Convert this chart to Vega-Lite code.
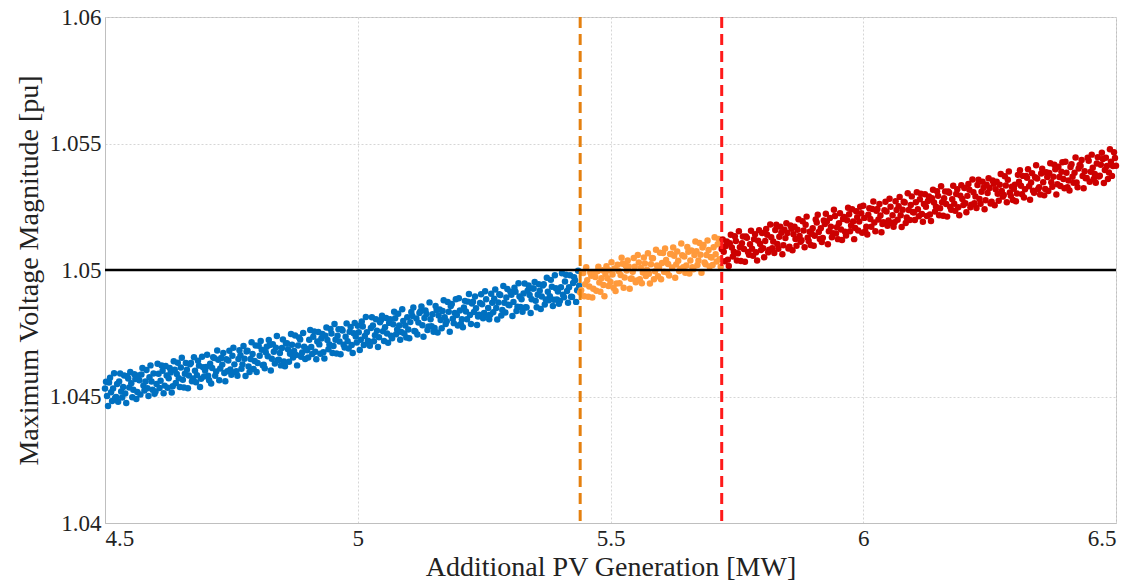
{
"$schema": "https://vega.github.io/schema/vega-lite/v6.json",
"width": 1011, "height": 506,
"autosize": {"type": "none"},
"padding": {"left": 105, "top": 17, "right": 20, "bottom": 61},
"background": "white",
"config": {
  "font": "Liberation Serif",
  "view": {"stroke": "#BFBFBF", "strokeWidth": 1},
  "axis": {"labelFont": "Liberation Serif", "titleFont": "Liberation Serif", "labelFontSize": 23, "titleFontSize": 28, "labelColor": "#222222", "titleColor": "#222222", "titleFontWeight": "normal", "domainColor": "#BFBFBF", "ticks": false, "gridColor": "#D6D6D6", "gridDash": [2, 2], "gridWidth": 1}
},
"datasets": {
"pts": [
{"x":4.500,"y":1.04532},{"x":4.504,"y":1.04502},{"x":4.508,"y":1.04555},{"x":4.512,"y":1.04517},{"x":4.516,"y":1.04532},{"x":4.520,"y":1.04494},{"x":4.524,"y":1.04549},{"x":4.528,"y":1.04559},{"x":4.532,"y":1.04520},{"x":4.536,"y":1.04538},{"x":4.540,"y":1.04512},{"x":4.544,"y":1.04580},{"x":4.548,"y":1.04536},{"x":4.552,"y":1.04552},{"x":4.556,"y":1.04527},{"x":4.560,"y":1.04569},{"x":4.564,"y":1.04518},{"x":4.568,"y":1.04564},{"x":4.572,"y":1.04587},{"x":4.576,"y":1.04543},{"x":4.580,"y":1.04559},{"x":4.584,"y":1.04533},{"x":4.588,"y":1.04576},{"x":4.592,"y":1.04559},{"x":4.596,"y":1.04591},
{"x":4.602,"y":1.04549},{"x":4.606,"y":1.04590},{"x":4.610,"y":1.04562},{"x":4.614,"y":1.04602},{"x":4.618,"y":1.04543},{"x":4.622,"y":1.04583},{"x":4.626,"y":1.04572},{"x":4.630,"y":1.04595},{"x":4.634,"y":1.04541},{"x":4.638,"y":1.04606},{"x":4.642,"y":1.04589},{"x":4.646,"y":1.04572},{"x":4.650,"y":1.04615},{"x":4.654,"y":1.04566},{"x":4.658,"y":1.04590},{"x":4.662,"y":1.04606},{"x":4.666,"y":1.04583},{"x":4.670,"y":1.04632},{"x":4.674,"y":1.04571},{"x":4.678,"y":1.04602},{"x":4.682,"y":1.04584},{"x":4.686,"y":1.04622},{"x":4.690,"y":1.04570},{"x":4.694,"y":1.04616},{"x":4.698,"y":1.04603},
{"x":4.700,"y":1.04617},{"x":4.704,"y":1.04582},{"x":4.708,"y":1.04629},{"x":4.712,"y":1.04613},{"x":4.716,"y":1.04652},{"x":4.720,"y":1.04599},{"x":4.724,"y":1.04645},{"x":4.728,"y":1.04611},{"x":4.732,"y":1.04626},{"x":4.736,"y":1.04593},{"x":4.740,"y":1.04647},{"x":4.744,"y":1.04642},{"x":4.748,"y":1.04607},{"x":4.752,"y":1.04661},{"x":4.756,"y":1.04627},{"x":4.760,"y":1.04600},{"x":4.764,"y":1.04648},{"x":4.768,"y":1.04663},{"x":4.772,"y":1.04627},{"x":4.776,"y":1.04649},{"x":4.780,"y":1.04678},{"x":4.784,"y":1.04619},{"x":4.788,"y":1.04648},{"x":4.792,"y":1.04668},{"x":4.796,"y":1.04640},
{"x":4.802,"y":1.04632},{"x":4.806,"y":1.04661},{"x":4.810,"y":1.04685},{"x":4.814,"y":1.04626},{"x":4.818,"y":1.04675},{"x":4.822,"y":1.04659},{"x":4.826,"y":1.04704},{"x":4.830,"y":1.04649},{"x":4.834,"y":1.04677},{"x":4.838,"y":1.04693},{"x":4.842,"y":1.04644},{"x":4.846,"y":1.04672},{"x":4.850,"y":1.04692},{"x":4.854,"y":1.04638},{"x":4.858,"y":1.04709},{"x":4.862,"y":1.04687},{"x":4.866,"y":1.04669},{"x":4.870,"y":1.04705},{"x":4.874,"y":1.04680},{"x":4.878,"y":1.04664},{"x":4.882,"y":1.04702},{"x":4.886,"y":1.04725},{"x":4.890,"y":1.04674},{"x":4.894,"y":1.04697},{"x":4.898,"y":1.04689},
{"x":4.900,"y":1.04683},{"x":4.904,"y":1.04724},{"x":4.908,"y":1.04696},{"x":4.912,"y":1.04736},{"x":4.916,"y":1.04677},{"x":4.920,"y":1.04717},{"x":4.924,"y":1.04706},{"x":4.928,"y":1.04729},{"x":4.932,"y":1.04675},{"x":4.936,"y":1.04740},{"x":4.940,"y":1.04723},{"x":4.944,"y":1.04706},{"x":4.948,"y":1.04749},{"x":4.952,"y":1.04700},{"x":4.956,"y":1.04724},{"x":4.960,"y":1.04740},{"x":4.964,"y":1.04717},{"x":4.968,"y":1.04766},{"x":4.972,"y":1.04705},{"x":4.976,"y":1.04736},{"x":4.980,"y":1.04718},{"x":4.984,"y":1.04756},{"x":4.988,"y":1.04704},{"x":4.992,"y":1.04750},{"x":4.996,"y":1.04737},
{"x":5.002,"y":1.04754},{"x":5.006,"y":1.04724},{"x":5.010,"y":1.04777},{"x":5.014,"y":1.04739},{"x":5.018,"y":1.04754},{"x":5.022,"y":1.04716},{"x":5.026,"y":1.04771},{"x":5.030,"y":1.04781},{"x":5.034,"y":1.04742},{"x":5.038,"y":1.04760},{"x":5.042,"y":1.04734},{"x":5.046,"y":1.04802},{"x":5.050,"y":1.04758},{"x":5.054,"y":1.04774},{"x":5.058,"y":1.04749},{"x":5.062,"y":1.04791},{"x":5.066,"y":1.04740},{"x":5.070,"y":1.04786},{"x":5.074,"y":1.04809},{"x":5.078,"y":1.04765},{"x":5.082,"y":1.04781},{"x":5.086,"y":1.04755},{"x":5.090,"y":1.04798},{"x":5.094,"y":1.04781},{"x":5.098,"y":1.04813},
{"x":5.100,"y":1.04765},{"x":5.104,"y":1.04794},{"x":5.108,"y":1.04818},{"x":5.112,"y":1.04759},{"x":5.116,"y":1.04808},{"x":5.120,"y":1.04792},{"x":5.124,"y":1.04837},{"x":5.128,"y":1.04782},{"x":5.132,"y":1.04810},{"x":5.136,"y":1.04826},{"x":5.140,"y":1.04777},{"x":5.144,"y":1.04805},{"x":5.148,"y":1.04825},{"x":5.152,"y":1.04771},{"x":5.156,"y":1.04842},{"x":5.160,"y":1.04820},{"x":5.164,"y":1.04802},{"x":5.168,"y":1.04838},{"x":5.172,"y":1.04813},{"x":5.176,"y":1.04797},{"x":5.180,"y":1.04835},{"x":5.184,"y":1.04858},{"x":5.188,"y":1.04807},{"x":5.192,"y":1.04830},{"x":5.196,"y":1.04822},
{"x":5.202,"y":1.04840},{"x":5.206,"y":1.04805},{"x":5.210,"y":1.04852},{"x":5.214,"y":1.04836},{"x":5.218,"y":1.04875},{"x":5.222,"y":1.04822},{"x":5.226,"y":1.04868},{"x":5.230,"y":1.04834},{"x":5.234,"y":1.04849},{"x":5.238,"y":1.04816},{"x":5.242,"y":1.04870},{"x":5.246,"y":1.04865},{"x":5.250,"y":1.04830},{"x":5.254,"y":1.04884},{"x":5.258,"y":1.04850},{"x":5.262,"y":1.04823},{"x":5.266,"y":1.04871},{"x":5.270,"y":1.04886},{"x":5.274,"y":1.04850},{"x":5.278,"y":1.04872},{"x":5.282,"y":1.04901},{"x":5.286,"y":1.04842},{"x":5.290,"y":1.04871},{"x":5.294,"y":1.04891},{"x":5.298,"y":1.04863},
{"x":5.300,"y":1.04861},{"x":5.304,"y":1.04902},{"x":5.308,"y":1.04874},{"x":5.312,"y":1.04914},{"x":5.316,"y":1.04855},{"x":5.320,"y":1.04895},{"x":5.324,"y":1.04884},{"x":5.328,"y":1.04907},{"x":5.332,"y":1.04853},{"x":5.336,"y":1.04918},{"x":5.340,"y":1.04901},{"x":5.344,"y":1.04884},{"x":5.348,"y":1.04927},{"x":5.352,"y":1.04878},{"x":5.356,"y":1.04902},{"x":5.360,"y":1.04918},{"x":5.364,"y":1.04895},{"x":5.368,"y":1.04944},{"x":5.372,"y":1.04883},{"x":5.376,"y":1.04914},{"x":5.380,"y":1.04896},{"x":5.384,"y":1.04934},{"x":5.388,"y":1.04882},{"x":5.392,"y":1.04928},{"x":5.396,"y":1.04915},
{"x":5.402,"y":1.04932},{"x":5.406,"y":1.04902},{"x":5.410,"y":1.04955},{"x":5.414,"y":1.04917},{"x":5.418,"y":1.04932},{"x":5.422,"y":1.04894},{"x":5.426,"y":1.04949},{"x":5.430,"y":1.04959},{"x":5.434,"y":1.04920},{"x":5.438,"y":1.04938},{"x":5.442,"y":1.04920},{"x":5.446,"y":1.04988},{"x":5.450,"y":1.04944},{"x":5.454,"y":1.04960},{"x":5.458,"y":1.04935},{"x":5.462,"y":1.04977},{"x":5.466,"y":1.04926},{"x":5.470,"y":1.04972},{"x":5.474,"y":1.04995},{"x":5.478,"y":1.04951},{"x":5.482,"y":1.04967},{"x":5.486,"y":1.04941},{"x":5.490,"y":1.04984},{"x":5.494,"y":1.04967},{"x":5.498,"y":1.04999},
{"x":5.500,"y":1.04953},{"x":5.504,"y":1.04982},{"x":5.508,"y":1.05006},{"x":5.512,"y":1.04947},{"x":5.516,"y":1.04996},{"x":5.520,"y":1.04980},{"x":5.524,"y":1.05025},{"x":5.528,"y":1.04970},{"x":5.532,"y":1.04998},{"x":5.536,"y":1.05014},{"x":5.540,"y":1.04965},{"x":5.544,"y":1.04993},{"x":5.548,"y":1.05013},{"x":5.552,"y":1.04959},{"x":5.556,"y":1.05030},{"x":5.560,"y":1.05008},{"x":5.564,"y":1.04990},{"x":5.568,"y":1.05026},{"x":5.572,"y":1.05001},{"x":5.576,"y":1.04985},{"x":5.580,"y":1.05023},{"x":5.584,"y":1.05046},{"x":5.588,"y":1.04995},{"x":5.592,"y":1.05018},{"x":5.596,"y":1.05010},
{"x":5.602,"y":1.05028},{"x":5.606,"y":1.04993},{"x":5.610,"y":1.05040},{"x":5.614,"y":1.05024},{"x":5.618,"y":1.05063},{"x":5.622,"y":1.05010},{"x":5.626,"y":1.05056},{"x":5.630,"y":1.05022},{"x":5.634,"y":1.05037},{"x":5.638,"y":1.05004},{"x":5.642,"y":1.05058},{"x":5.646,"y":1.05053},{"x":5.650,"y":1.05018},{"x":5.654,"y":1.05072},{"x":5.658,"y":1.05038},{"x":5.662,"y":1.05011},{"x":5.666,"y":1.05059},{"x":5.670,"y":1.05074},{"x":5.674,"y":1.05038},{"x":5.678,"y":1.05060},{"x":5.682,"y":1.05089},{"x":5.686,"y":1.05030},{"x":5.690,"y":1.05059},{"x":5.694,"y":1.05079},{"x":5.698,"y":1.05051},
{"x":5.700,"y":1.05049},{"x":5.704,"y":1.05090},{"x":5.708,"y":1.05062},{"x":5.712,"y":1.05102},{"x":5.716,"y":1.05043},{"x":5.720,"y":1.05083},{"x":5.724,"y":1.05072},{"x":5.728,"y":1.05095},{"x":5.732,"y":1.05041},{"x":5.736,"y":1.05106},{"x":5.740,"y":1.05089},{"x":5.744,"y":1.05072},{"x":5.748,"y":1.05115},{"x":5.752,"y":1.05066},{"x":5.756,"y":1.05090},{"x":5.760,"y":1.05106},{"x":5.764,"y":1.05083},{"x":5.768,"y":1.05132},{"x":5.772,"y":1.05071},{"x":5.776,"y":1.05102},{"x":5.780,"y":1.05084},{"x":5.784,"y":1.05122},{"x":5.788,"y":1.05070},{"x":5.792,"y":1.05116},{"x":5.796,"y":1.05103},
{"x":5.802,"y":1.05086},{"x":5.806,"y":1.05115},{"x":5.810,"y":1.05139},{"x":5.814,"y":1.05080},{"x":5.818,"y":1.05129},{"x":5.822,"y":1.05113},{"x":5.826,"y":1.05158},{"x":5.830,"y":1.05103},{"x":5.834,"y":1.05131},{"x":5.838,"y":1.05147},{"x":5.842,"y":1.05098},{"x":5.846,"y":1.05126},{"x":5.850,"y":1.05146},{"x":5.854,"y":1.05092},{"x":5.858,"y":1.05163},{"x":5.862,"y":1.05141},{"x":5.866,"y":1.05123},{"x":5.870,"y":1.05159},{"x":5.874,"y":1.05134},{"x":5.878,"y":1.05118},{"x":5.882,"y":1.05156},{"x":5.886,"y":1.05179},{"x":5.890,"y":1.05128},{"x":5.894,"y":1.05151},{"x":5.898,"y":1.05143},
{"x":5.900,"y":1.05165},{"x":5.904,"y":1.05135},{"x":5.908,"y":1.05188},{"x":5.912,"y":1.05150},{"x":5.916,"y":1.05165},{"x":5.920,"y":1.05127},{"x":5.924,"y":1.05182},{"x":5.928,"y":1.05192},{"x":5.932,"y":1.05153},{"x":5.936,"y":1.05171},{"x":5.940,"y":1.05145},{"x":5.944,"y":1.05213},{"x":5.948,"y":1.05169},{"x":5.952,"y":1.05185},{"x":5.956,"y":1.05160},{"x":5.960,"y":1.05202},{"x":5.964,"y":1.05151},{"x":5.968,"y":1.05197},{"x":5.972,"y":1.05220},{"x":5.976,"y":1.05176},{"x":5.980,"y":1.05192},{"x":5.984,"y":1.05166},{"x":5.988,"y":1.05209},{"x":5.992,"y":1.05192},{"x":5.996,"y":1.05224},
{"x":6.002,"y":1.05206},{"x":6.006,"y":1.05171},{"x":6.010,"y":1.05218},{"x":6.014,"y":1.05202},{"x":6.018,"y":1.05241},{"x":6.022,"y":1.05188},{"x":6.026,"y":1.05234},{"x":6.030,"y":1.05200},{"x":6.034,"y":1.05215},{"x":6.038,"y":1.05182},{"x":6.042,"y":1.05236},{"x":6.046,"y":1.05231},{"x":6.050,"y":1.05196},{"x":6.054,"y":1.05250},{"x":6.058,"y":1.05216},{"x":6.062,"y":1.05189},{"x":6.066,"y":1.05237},{"x":6.070,"y":1.05252},{"x":6.074,"y":1.05216},{"x":6.078,"y":1.05238},{"x":6.082,"y":1.05267},{"x":6.086,"y":1.05208},{"x":6.090,"y":1.05237},{"x":6.094,"y":1.05257},{"x":6.098,"y":1.05229},
{"x":6.100,"y":1.05227},{"x":6.104,"y":1.05268},{"x":6.108,"y":1.05240},{"x":6.112,"y":1.05280},{"x":6.116,"y":1.05221},{"x":6.120,"y":1.05261},{"x":6.124,"y":1.05250},{"x":6.128,"y":1.05273},{"x":6.132,"y":1.05219},{"x":6.136,"y":1.05284},{"x":6.140,"y":1.05267},{"x":6.144,"y":1.05250},{"x":6.148,"y":1.05293},{"x":6.152,"y":1.05244},{"x":6.156,"y":1.05268},{"x":6.160,"y":1.05284},{"x":6.164,"y":1.05261},{"x":6.168,"y":1.05310},{"x":6.172,"y":1.05249},{"x":6.176,"y":1.05280},{"x":6.180,"y":1.05262},{"x":6.184,"y":1.05300},{"x":6.188,"y":1.05248},{"x":6.192,"y":1.05294},{"x":6.196,"y":1.05281},
{"x":6.202,"y":1.05264},{"x":6.206,"y":1.05293},{"x":6.210,"y":1.05317},{"x":6.214,"y":1.05258},{"x":6.218,"y":1.05307},{"x":6.222,"y":1.05291},{"x":6.226,"y":1.05336},{"x":6.230,"y":1.05281},{"x":6.234,"y":1.05309},{"x":6.238,"y":1.05325},{"x":6.242,"y":1.05276},{"x":6.246,"y":1.05304},{"x":6.250,"y":1.05324},{"x":6.254,"y":1.05270},{"x":6.258,"y":1.05341},{"x":6.262,"y":1.05319},{"x":6.266,"y":1.05301},{"x":6.270,"y":1.05337},{"x":6.274,"y":1.05312},{"x":6.278,"y":1.05296},{"x":6.282,"y":1.05334},{"x":6.286,"y":1.05357},{"x":6.290,"y":1.05306},{"x":6.294,"y":1.05329},{"x":6.298,"y":1.05321},
{"x":6.300,"y":1.05337},{"x":6.304,"y":1.05302},{"x":6.308,"y":1.05349},{"x":6.312,"y":1.05333},{"x":6.316,"y":1.05372},{"x":6.320,"y":1.05319},{"x":6.324,"y":1.05365},{"x":6.328,"y":1.05331},{"x":6.332,"y":1.05346},{"x":6.336,"y":1.05313},{"x":6.340,"y":1.05367},{"x":6.344,"y":1.05362},{"x":6.348,"y":1.05327},{"x":6.352,"y":1.05381},{"x":6.356,"y":1.05347},{"x":6.360,"y":1.05320},{"x":6.364,"y":1.05368},{"x":6.368,"y":1.05383},{"x":6.372,"y":1.05347},{"x":6.376,"y":1.05369},{"x":6.380,"y":1.05398},{"x":6.384,"y":1.05339},{"x":6.388,"y":1.05368},{"x":6.392,"y":1.05388},{"x":6.396,"y":1.05360},
{"x":6.402,"y":1.05384},{"x":6.406,"y":1.05354},{"x":6.410,"y":1.05407},{"x":6.414,"y":1.05369},{"x":6.418,"y":1.05384},{"x":6.422,"y":1.05346},{"x":6.426,"y":1.05401},{"x":6.430,"y":1.05411},{"x":6.434,"y":1.05372},{"x":6.438,"y":1.05390},{"x":6.442,"y":1.05364},{"x":6.446,"y":1.05432},{"x":6.450,"y":1.05388},{"x":6.454,"y":1.05404},{"x":6.458,"y":1.05379},{"x":6.462,"y":1.05421},{"x":6.466,"y":1.05370},{"x":6.470,"y":1.05416},{"x":6.474,"y":1.05439},{"x":6.478,"y":1.05395},{"x":6.482,"y":1.05411},{"x":6.486,"y":1.05385},{"x":6.490,"y":1.05428},{"x":6.494,"y":1.05411},{"x":6.498,"y":1.05443},
{"x":6.500,"y":1.05412},
{"x":4.502,"y":1.04558},{"x":4.506,"y":1.04462},{"x":4.510,"y":1.04574},{"x":4.514,"y":1.04482},{"x":4.518,"y":1.04592},{"x":4.522,"y":1.04498},{"x":4.526,"y":1.04479},{"x":4.530,"y":1.04591},{"x":4.534,"y":1.04496},{"x":4.538,"y":1.04583},{"x":4.542,"y":1.04474},{"x":4.546,"y":1.04571},{"x":4.550,"y":1.04597},{"x":4.554,"y":1.04497},{"x":4.558,"y":1.04588},{"x":4.562,"y":1.04490},{"x":4.566,"y":1.04583},{"x":4.570,"y":1.04508},{"x":4.574,"y":1.04613},{"x":4.578,"y":1.04524},{"x":4.582,"y":1.04605},{"x":4.586,"y":1.04502},{"x":4.590,"y":1.04623},{"x":4.594,"y":1.04527},{"x":4.598,"y":1.04511},
{"x":4.600,"y":1.04520},{"x":4.604,"y":1.04629},{"x":4.608,"y":1.04534},{"x":4.612,"y":1.04623},{"x":4.616,"y":1.04513},{"x":4.620,"y":1.04621},{"x":4.624,"y":1.04535},{"x":4.628,"y":1.04613},{"x":4.632,"y":1.04516},{"x":4.636,"y":1.04639},{"x":4.640,"y":1.04553},{"x":4.644,"y":1.04633},{"x":4.648,"y":1.04538},{"x":4.652,"y":1.04653},{"x":4.656,"y":1.04536},{"x":4.660,"y":1.04632},{"x":4.664,"y":1.04533},{"x":4.668,"y":1.04627},{"x":4.672,"y":1.04560},{"x":4.676,"y":1.04655},{"x":4.680,"y":1.04556},{"x":4.684,"y":1.04641},{"x":4.688,"y":1.04538},{"x":4.692,"y":1.04657},{"x":4.696,"y":1.04579},
{"x":4.702,"y":1.04665},{"x":4.706,"y":1.04564},{"x":4.710,"y":1.04551},{"x":4.714,"y":1.04655},{"x":4.718,"y":1.04582},{"x":4.722,"y":1.04682},{"x":4.726,"y":1.04564},{"x":4.730,"y":1.04652},{"x":4.734,"y":1.04672},{"x":4.738,"y":1.04560},{"x":4.742,"y":1.04600},{"x":4.746,"y":1.04681},{"x":4.750,"y":1.04586},{"x":4.754,"y":1.04693},{"x":4.758,"y":1.04597},{"x":4.762,"y":1.04582},{"x":4.766,"y":1.04683},{"x":4.770,"y":1.04610},{"x":4.774,"y":1.04700},{"x":4.778,"y":1.04581},{"x":4.782,"y":1.04681},{"x":4.786,"y":1.04597},{"x":4.790,"y":1.04714},{"x":4.794,"y":1.04609},{"x":4.798,"y":1.04702},
{"x":4.800,"y":1.04597},{"x":4.804,"y":1.04701},{"x":4.808,"y":1.04719},{"x":4.812,"y":1.04624},{"x":4.816,"y":1.04612},{"x":4.820,"y":1.04697},{"x":4.824,"y":1.04723},{"x":4.828,"y":1.04603},{"x":4.832,"y":1.04707},{"x":4.836,"y":1.04630},{"x":4.840,"y":1.04739},{"x":4.844,"y":1.04645},{"x":4.848,"y":1.04623},{"x":4.852,"y":1.04725},{"x":4.856,"y":1.04620},{"x":4.860,"y":1.04711},{"x":4.864,"y":1.04637},{"x":4.868,"y":1.04747},{"x":4.872,"y":1.04654},{"x":4.876,"y":1.04741},{"x":4.880,"y":1.04623},{"x":4.884,"y":1.04733},{"x":4.888,"y":1.04657},{"x":4.892,"y":1.04751},{"x":4.896,"y":1.04648},
{"x":4.902,"y":1.04654},{"x":4.906,"y":1.04763},{"x":4.910,"y":1.04668},{"x":4.914,"y":1.04757},{"x":4.918,"y":1.04647},{"x":4.922,"y":1.04755},{"x":4.926,"y":1.04669},{"x":4.930,"y":1.04747},{"x":4.934,"y":1.04650},{"x":4.938,"y":1.04773},{"x":4.942,"y":1.04687},{"x":4.946,"y":1.04767},{"x":4.950,"y":1.04672},{"x":4.954,"y":1.04787},{"x":4.958,"y":1.04670},{"x":4.962,"y":1.04766},{"x":4.966,"y":1.04667},{"x":4.970,"y":1.04761},{"x":4.974,"y":1.04694},{"x":4.978,"y":1.04789},{"x":4.982,"y":1.04690},{"x":4.986,"y":1.04775},{"x":4.990,"y":1.04672},{"x":4.994,"y":1.04791},{"x":4.998,"y":1.04713},
{"x":5.000,"y":1.04780},{"x":5.004,"y":1.04684},{"x":5.008,"y":1.04796},{"x":5.012,"y":1.04704},{"x":5.016,"y":1.04814},{"x":5.020,"y":1.04720},{"x":5.024,"y":1.04701},{"x":5.028,"y":1.04813},{"x":5.032,"y":1.04718},{"x":5.036,"y":1.04805},{"x":5.040,"y":1.04696},{"x":5.044,"y":1.04793},{"x":5.048,"y":1.04819},{"x":5.052,"y":1.04719},{"x":5.056,"y":1.04810},{"x":5.060,"y":1.04712},{"x":5.064,"y":1.04805},{"x":5.068,"y":1.04730},{"x":5.072,"y":1.04835},{"x":5.076,"y":1.04746},{"x":5.080,"y":1.04827},{"x":5.084,"y":1.04724},{"x":5.088,"y":1.04845},{"x":5.092,"y":1.04749},{"x":5.096,"y":1.04733},
{"x":5.102,"y":1.04730},{"x":5.106,"y":1.04834},{"x":5.110,"y":1.04852},{"x":5.114,"y":1.04757},{"x":5.118,"y":1.04745},{"x":5.122,"y":1.04830},{"x":5.126,"y":1.04856},{"x":5.130,"y":1.04736},{"x":5.134,"y":1.04840},{"x":5.138,"y":1.04763},{"x":5.142,"y":1.04872},{"x":5.146,"y":1.04778},{"x":5.150,"y":1.04756},{"x":5.154,"y":1.04858},{"x":5.158,"y":1.04753},{"x":5.162,"y":1.04844},{"x":5.166,"y":1.04770},{"x":5.170,"y":1.04880},{"x":5.174,"y":1.04787},{"x":5.178,"y":1.04874},{"x":5.182,"y":1.04756},{"x":5.186,"y":1.04866},{"x":5.190,"y":1.04790},{"x":5.194,"y":1.04884},{"x":5.198,"y":1.04781},
{"x":5.200,"y":1.04888},{"x":5.204,"y":1.04787},{"x":5.208,"y":1.04774},{"x":5.212,"y":1.04878},{"x":5.216,"y":1.04805},{"x":5.220,"y":1.04905},{"x":5.224,"y":1.04787},{"x":5.228,"y":1.04875},{"x":5.232,"y":1.04895},{"x":5.236,"y":1.04783},{"x":5.240,"y":1.04823},{"x":5.244,"y":1.04904},{"x":5.248,"y":1.04809},{"x":5.252,"y":1.04916},{"x":5.256,"y":1.04820},{"x":5.260,"y":1.04805},{"x":5.264,"y":1.04906},{"x":5.268,"y":1.04833},{"x":5.272,"y":1.04923},{"x":5.276,"y":1.04804},{"x":5.280,"y":1.04904},{"x":5.284,"y":1.04820},{"x":5.288,"y":1.04937},{"x":5.292,"y":1.04832},{"x":5.296,"y":1.04925},
{"x":5.302,"y":1.04914},{"x":5.306,"y":1.04818},{"x":5.310,"y":1.04930},{"x":5.314,"y":1.04838},{"x":5.318,"y":1.04948},{"x":5.322,"y":1.04854},{"x":5.326,"y":1.04835},{"x":5.330,"y":1.04947},{"x":5.334,"y":1.04852},{"x":5.338,"y":1.04939},{"x":5.342,"y":1.04830},{"x":5.346,"y":1.04927},{"x":5.350,"y":1.04953},{"x":5.354,"y":1.04853},{"x":5.358,"y":1.04944},{"x":5.362,"y":1.04846},{"x":5.366,"y":1.04939},{"x":5.370,"y":1.04864},{"x":5.374,"y":1.04969},{"x":5.378,"y":1.04880},{"x":5.382,"y":1.04961},{"x":5.386,"y":1.04858},{"x":5.390,"y":1.04979},{"x":5.394,"y":1.04883},{"x":5.398,"y":1.04867},
{"x":5.400,"y":1.04878},{"x":5.404,"y":1.04987},{"x":5.408,"y":1.04892},{"x":5.412,"y":1.04981},{"x":5.416,"y":1.04871},{"x":5.420,"y":1.04979},{"x":5.424,"y":1.04893},{"x":5.428,"y":1.04971},{"x":5.432,"y":1.04874},{"x":5.436,"y":1.04997},{"x":5.440,"y":1.04911},{"x":5.444,"y":1.04991},{"x":5.448,"y":1.04896},{"x":5.452,"y":1.05011},{"x":5.456,"y":1.04894},{"x":5.460,"y":1.04990},{"x":5.464,"y":1.04891},{"x":5.468,"y":1.04985},{"x":5.472,"y":1.04918},{"x":5.476,"y":1.05013},{"x":5.480,"y":1.04914},{"x":5.484,"y":1.04999},{"x":5.488,"y":1.04896},{"x":5.492,"y":1.05015},{"x":5.496,"y":1.04937},
{"x":5.502,"y":1.05031},{"x":5.506,"y":1.04930},{"x":5.510,"y":1.04917},{"x":5.514,"y":1.05021},{"x":5.518,"y":1.04948},{"x":5.522,"y":1.05048},{"x":5.526,"y":1.04930},{"x":5.530,"y":1.05018},{"x":5.534,"y":1.05038},{"x":5.538,"y":1.04926},{"x":5.542,"y":1.04966},{"x":5.546,"y":1.05047},{"x":5.550,"y":1.04952},{"x":5.554,"y":1.05059},{"x":5.558,"y":1.04963},{"x":5.562,"y":1.04948},{"x":5.566,"y":1.05049},{"x":5.570,"y":1.04976},{"x":5.574,"y":1.05066},{"x":5.578,"y":1.04947},{"x":5.582,"y":1.05047},{"x":5.586,"y":1.04963},{"x":5.590,"y":1.05080},{"x":5.594,"y":1.04975},{"x":5.598,"y":1.05068},
{"x":5.600,"y":1.04963},{"x":5.604,"y":1.05067},{"x":5.608,"y":1.05085},{"x":5.612,"y":1.04990},{"x":5.616,"y":1.04978},{"x":5.620,"y":1.05063},{"x":5.624,"y":1.05089},{"x":5.628,"y":1.04969},{"x":5.632,"y":1.05073},{"x":5.636,"y":1.04996},{"x":5.640,"y":1.05105},{"x":5.644,"y":1.05011},{"x":5.648,"y":1.04989},{"x":5.652,"y":1.05091},{"x":5.656,"y":1.04986},{"x":5.660,"y":1.05077},{"x":5.664,"y":1.05003},{"x":5.668,"y":1.05113},{"x":5.672,"y":1.05020},{"x":5.676,"y":1.05107},{"x":5.680,"y":1.04989},{"x":5.684,"y":1.05099},{"x":5.688,"y":1.05023},{"x":5.692,"y":1.05117},{"x":5.696,"y":1.05014},
{"x":5.702,"y":1.05020},{"x":5.706,"y":1.05129},{"x":5.710,"y":1.05034},{"x":5.714,"y":1.05123},{"x":5.718,"y":1.05013},{"x":5.722,"y":1.05121},{"x":5.726,"y":1.05035},{"x":5.730,"y":1.05113},{"x":5.734,"y":1.05016},{"x":5.738,"y":1.05139},{"x":5.742,"y":1.05053},{"x":5.746,"y":1.05133},{"x":5.750,"y":1.05038},{"x":5.754,"y":1.05153},{"x":5.758,"y":1.05036},{"x":5.762,"y":1.05132},{"x":5.766,"y":1.05033},{"x":5.770,"y":1.05127},{"x":5.774,"y":1.05060},{"x":5.778,"y":1.05155},{"x":5.782,"y":1.05056},{"x":5.786,"y":1.05141},{"x":5.790,"y":1.05038},{"x":5.794,"y":1.05157},{"x":5.798,"y":1.05079},
{"x":5.800,"y":1.05146},{"x":5.804,"y":1.05050},{"x":5.808,"y":1.05162},{"x":5.812,"y":1.05070},{"x":5.816,"y":1.05180},{"x":5.820,"y":1.05086},{"x":5.824,"y":1.05067},{"x":5.828,"y":1.05179},{"x":5.832,"y":1.05084},{"x":5.836,"y":1.05171},{"x":5.840,"y":1.05062},{"x":5.844,"y":1.05159},{"x":5.848,"y":1.05185},{"x":5.852,"y":1.05085},{"x":5.856,"y":1.05176},{"x":5.860,"y":1.05078},{"x":5.864,"y":1.05171},{"x":5.868,"y":1.05096},{"x":5.872,"y":1.05201},{"x":5.876,"y":1.05112},{"x":5.880,"y":1.05193},{"x":5.884,"y":1.05090},{"x":5.888,"y":1.05211},{"x":5.892,"y":1.05115},{"x":5.896,"y":1.05099},
{"x":5.902,"y":1.05096},{"x":5.906,"y":1.05200},{"x":5.910,"y":1.05218},{"x":5.914,"y":1.05123},{"x":5.918,"y":1.05111},{"x":5.922,"y":1.05196},{"x":5.926,"y":1.05222},{"x":5.930,"y":1.05102},{"x":5.934,"y":1.05206},{"x":5.938,"y":1.05129},{"x":5.942,"y":1.05238},{"x":5.946,"y":1.05144},{"x":5.950,"y":1.05122},{"x":5.954,"y":1.05224},{"x":5.958,"y":1.05119},{"x":5.962,"y":1.05210},{"x":5.966,"y":1.05136},{"x":5.970,"y":1.05246},{"x":5.974,"y":1.05153},{"x":5.978,"y":1.05240},{"x":5.982,"y":1.05122},{"x":5.986,"y":1.05232},{"x":5.990,"y":1.05156},{"x":5.994,"y":1.05250},{"x":5.998,"y":1.05147},
{"x":6.000,"y":1.05254},{"x":6.004,"y":1.05153},{"x":6.008,"y":1.05140},{"x":6.012,"y":1.05244},{"x":6.016,"y":1.05171},{"x":6.020,"y":1.05271},{"x":6.024,"y":1.05153},{"x":6.028,"y":1.05241},{"x":6.032,"y":1.05261},{"x":6.036,"y":1.05149},{"x":6.040,"y":1.05189},{"x":6.044,"y":1.05270},{"x":6.048,"y":1.05175},{"x":6.052,"y":1.05282},{"x":6.056,"y":1.05186},{"x":6.060,"y":1.05171},{"x":6.064,"y":1.05272},{"x":6.068,"y":1.05199},{"x":6.072,"y":1.05289},{"x":6.076,"y":1.05170},{"x":6.080,"y":1.05270},{"x":6.084,"y":1.05186},{"x":6.088,"y":1.05303},{"x":6.092,"y":1.05198},{"x":6.096,"y":1.05291},
{"x":6.102,"y":1.05198},{"x":6.106,"y":1.05307},{"x":6.110,"y":1.05212},{"x":6.114,"y":1.05301},{"x":6.118,"y":1.05191},{"x":6.122,"y":1.05299},{"x":6.126,"y":1.05213},{"x":6.130,"y":1.05291},{"x":6.134,"y":1.05194},{"x":6.138,"y":1.05317},{"x":6.142,"y":1.05231},{"x":6.146,"y":1.05311},{"x":6.150,"y":1.05216},{"x":6.154,"y":1.05331},{"x":6.158,"y":1.05214},{"x":6.162,"y":1.05310},{"x":6.166,"y":1.05211},{"x":6.170,"y":1.05305},{"x":6.174,"y":1.05238},{"x":6.178,"y":1.05333},{"x":6.182,"y":1.05234},{"x":6.186,"y":1.05319},{"x":6.190,"y":1.05216},{"x":6.194,"y":1.05335},{"x":6.198,"y":1.05257},
{"x":6.200,"y":1.05324},{"x":6.204,"y":1.05228},{"x":6.208,"y":1.05340},{"x":6.212,"y":1.05248},{"x":6.216,"y":1.05358},{"x":6.220,"y":1.05264},{"x":6.224,"y":1.05245},{"x":6.228,"y":1.05357},{"x":6.232,"y":1.05262},{"x":6.236,"y":1.05349},{"x":6.240,"y":1.05240},{"x":6.244,"y":1.05337},{"x":6.248,"y":1.05363},{"x":6.252,"y":1.05263},{"x":6.256,"y":1.05354},{"x":6.260,"y":1.05256},{"x":6.264,"y":1.05349},{"x":6.268,"y":1.05274},{"x":6.272,"y":1.05379},{"x":6.276,"y":1.05290},{"x":6.280,"y":1.05371},{"x":6.284,"y":1.05268},{"x":6.288,"y":1.05389},{"x":6.292,"y":1.05293},{"x":6.296,"y":1.05277},
{"x":6.302,"y":1.05272},{"x":6.306,"y":1.05376},{"x":6.310,"y":1.05394},{"x":6.314,"y":1.05299},{"x":6.318,"y":1.05287},{"x":6.322,"y":1.05372},{"x":6.326,"y":1.05398},{"x":6.330,"y":1.05278},{"x":6.334,"y":1.05382},{"x":6.338,"y":1.05305},{"x":6.342,"y":1.05414},{"x":6.346,"y":1.05320},{"x":6.350,"y":1.05298},{"x":6.354,"y":1.05400},{"x":6.358,"y":1.05295},{"x":6.362,"y":1.05386},{"x":6.366,"y":1.05312},{"x":6.370,"y":1.05422},{"x":6.374,"y":1.05329},{"x":6.378,"y":1.05416},{"x":6.382,"y":1.05298},{"x":6.386,"y":1.05408},{"x":6.390,"y":1.05332},{"x":6.394,"y":1.05426},{"x":6.398,"y":1.05323},
{"x":6.400,"y":1.05428},{"x":6.404,"y":1.05327},{"x":6.408,"y":1.05314},{"x":6.412,"y":1.05418},{"x":6.416,"y":1.05345},{"x":6.420,"y":1.05445},{"x":6.424,"y":1.05327},{"x":6.428,"y":1.05415},{"x":6.432,"y":1.05435},{"x":6.436,"y":1.05323},{"x":6.440,"y":1.05363},{"x":6.444,"y":1.05444},{"x":6.448,"y":1.05349},{"x":6.452,"y":1.05456},{"x":6.456,"y":1.05360},{"x":6.460,"y":1.05345},{"x":6.464,"y":1.05446},{"x":6.468,"y":1.05373},{"x":6.472,"y":1.05463},{"x":6.476,"y":1.05344},{"x":6.480,"y":1.05444},{"x":6.484,"y":1.05360},{"x":6.488,"y":1.05477},{"x":6.492,"y":1.05372},{"x":6.496,"y":1.05465}
]
},
"layer": [
  {
    "data": {"name": "pts"},
    "mark": {"type": "circle", "size": 42, "opacity": 1},
    "encoding": {
      "x": {"field": "x", "type": "quantitative", "scale": {"domain": [4.5, 6.5], "nice": false, "zero": false},
        "axis": {"values": [4.5, 5, 5.5, 6, 6.5], "format": ".1~f", "title": "Additional PV Generation [MW]", "labelPadding": 4, "titlePadding": 3}},
      "y": {"field": "y", "type": "quantitative", "scale": {"domain": [1.04, 1.06], "nice": false, "zero": false},
        "axis": {"values": [1.04, 1.045, 1.05, 1.055, 1.06], "format": ".3~f", "title": "Maximum Voltage Magnitude [pu]", "labelPadding": 4, "titlePadding": 6}},
      "color": {"field": "x", "type": "quantitative", "scale": {"type": "threshold", "domain": [5.44, 5.72], "range": ["#0070C0", "#FF9A3C", "#CC0000"]}, "legend": null}
    }
  },
  {
    "data": {"values": [{"v": 1.05}]},
    "mark": {"type": "rule", "color": "#000000", "strokeWidth": 2.5},
    "encoding": {"y": {"field": "v", "type": "quantitative"}}
  },
  {
    "data": {"values": [{"v": 5.44}]},
    "mark": {"type": "rule", "color": "#E5800F", "strokeWidth": 3, "strokeDash": [11, 6]},
    "encoding": {"x": {"field": "v", "type": "quantitative"}}
  },
  {
    "data": {"values": [{"v": 5.72}]},
    "mark": {"type": "rule", "color": "#FF1A1A", "strokeWidth": 3, "strokeDash": [11, 6]},
    "encoding": {"x": {"field": "v", "type": "quantitative"}}
  }
]
}
